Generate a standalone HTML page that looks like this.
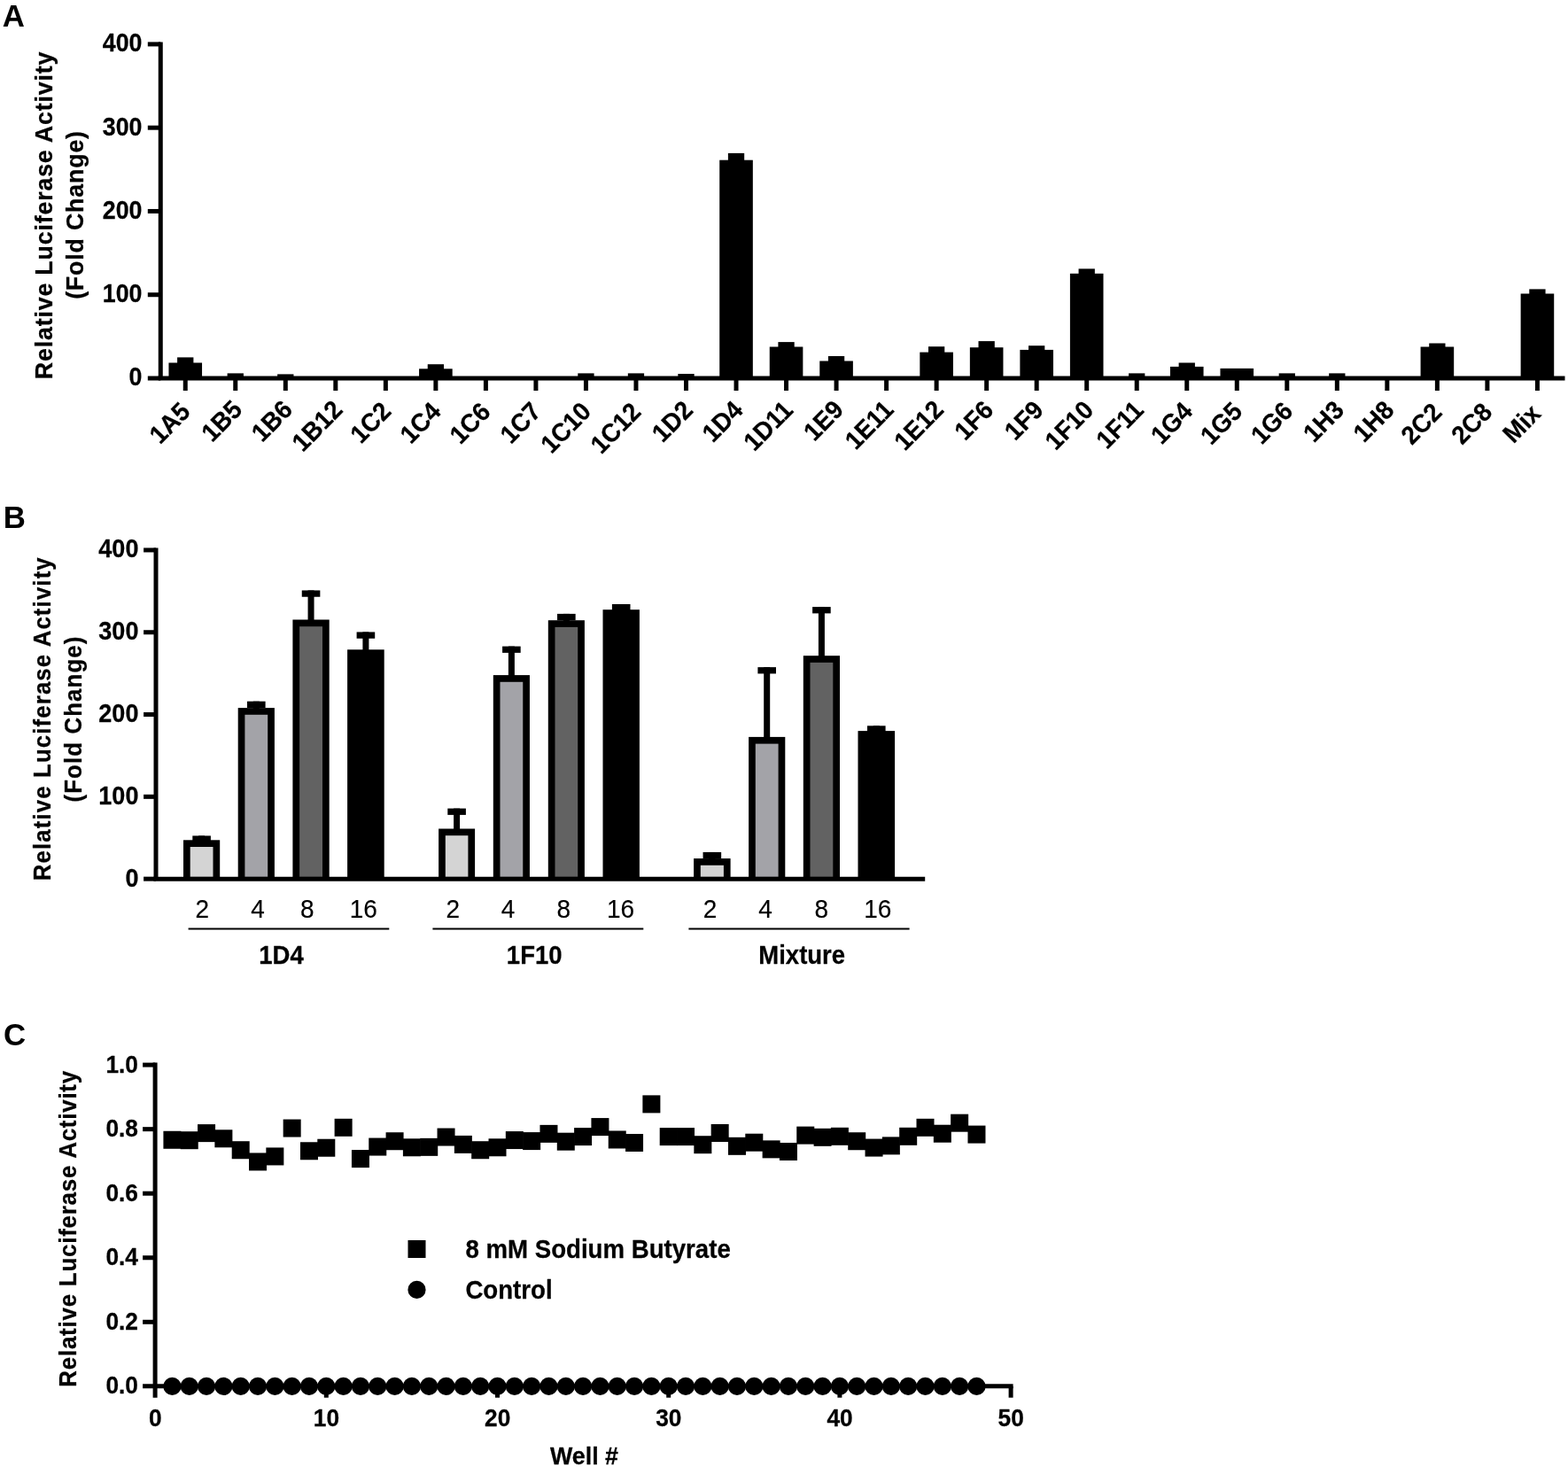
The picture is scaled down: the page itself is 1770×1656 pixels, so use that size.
<!DOCTYPE html>
<html lang="en">
<head>
<meta charset="utf-8">
<title>Relative luciferase activity figure (panels A, B, C)</title>
<style>
html,body{margin:0;padding:0;background:#fff;overflow:hidden}
svg{display:block}
svg text{font-family:"Liberation Sans", sans-serif;font-weight:bold;fill:#000;stroke:#000;stroke-width:0.25px;stroke-linejoin:round}
svg text.pl{stroke:none}
svg text.rg{font-weight:normal;stroke-width:0.15px}
svg line{stroke:#000}
</style>
</head>
<body>
<svg width="1770" height="1656" viewBox="0 0 1770 1656">
<rect x="0" y="0" width="1770" height="1656" style="fill:#fff"/>
<g id="panel-labels">
<text class="pl" transform="translate(2.86 30)" font-size="34.8">A</text>
<text class="pl" transform="translate(3.87 596.1)" font-size="34.8">B</text>
<text class="pl" transform="translate(3.97 1179.8)" font-size="34.8">C</text>
</g>
<g id="panel-a">
<line x1="181.25" y1="47.4" x2="181.25" y2="427" stroke-width="5"/>
<line x1="178.75" y1="427" x2="1766.5" y2="427" stroke-width="5"/>
<line x1="166.8" y1="427" x2="181.25" y2="427" stroke-width="5"/>
<text transform="translate(160.5 435.35) scale(1 1.12)" font-size="26.8" text-anchor="end">0</text>
<line x1="166.8" y1="332.73" x2="181.25" y2="332.73" stroke-width="5"/>
<text transform="translate(160.5 341.08) scale(1 1.12)" font-size="26.8" text-anchor="end">100</text>
<line x1="166.8" y1="238.45" x2="181.25" y2="238.45" stroke-width="5"/>
<text transform="translate(160.5 246.8) scale(1 1.12)" font-size="26.8" text-anchor="end">200</text>
<line x1="166.8" y1="144.18" x2="181.25" y2="144.18" stroke-width="5"/>
<text transform="translate(160.5 152.53) scale(1 1.12)" font-size="26.8" text-anchor="end">300</text>
<line x1="166.8" y1="49.9" x2="181.25" y2="49.9" stroke-width="5"/>
<text transform="translate(160.5 58.25) scale(1 1.12)" font-size="26.8" text-anchor="end">400</text>
<line x1="209.25" y1="427" x2="209.25" y2="441" stroke-width="5"/>
<rect x="190.45" y="409.5" width="37.6" height="17.5" stroke="none"/>
<rect x="200.1" y="403.4" width="18.3" height="23.6" stroke="none"/>
<text transform="translate(216.3 466.3) rotate(-45.5) scale(1 1.047)" font-size="27.7" text-anchor="end">1A5</text>
<line x1="265.77" y1="427" x2="265.77" y2="441" stroke-width="5"/>
<rect x="256.62" y="421.4" width="18.3" height="5.6" stroke="none"/>
<text transform="translate(275.15 464) rotate(-45.5) scale(1 1.047)" font-size="27.7" text-anchor="end">1B5</text>
<line x1="322.3" y1="427" x2="322.3" y2="441" stroke-width="5"/>
<rect x="313.15" y="422.4" width="18.3" height="4.6" stroke="none"/>
<text transform="translate(331.7 464) rotate(-45.5) scale(1 1.047)" font-size="27.7" text-anchor="end">1B6</text>
<line x1="378.82" y1="427" x2="378.82" y2="441" stroke-width="5"/>
<text transform="translate(388.25 464) rotate(-45.5) scale(1 1.047)" font-size="27.7" text-anchor="end">1B12</text>
<line x1="435.35" y1="427" x2="435.35" y2="441" stroke-width="5"/>
<text transform="translate(443.1 465.7) rotate(-45.5) scale(1 1.047)" font-size="27.7" text-anchor="end">1C2</text>
<line x1="491.88" y1="427" x2="491.88" y2="441" stroke-width="5"/>
<rect x="473.07" y="416.3" width="37.6" height="10.7" stroke="none"/>
<rect x="482.73" y="411.2" width="18.3" height="15.8" stroke="none"/>
<text transform="translate(499.25 466.1) rotate(-45.5) scale(1 1.047)" font-size="27.7" text-anchor="end">1C4</text>
<line x1="548.4" y1="427" x2="548.4" y2="441" stroke-width="5"/>
<text transform="translate(555.4 466.5) rotate(-45.5) scale(1 1.047)" font-size="27.7" text-anchor="end">1C6</text>
<line x1="604.92" y1="427" x2="604.92" y2="441" stroke-width="5"/>
<text transform="translate(612.35 466.1) rotate(-45.5) scale(1 1.047)" font-size="27.7" text-anchor="end">1C7</text>
<line x1="661.45" y1="427" x2="661.45" y2="441" stroke-width="5"/>
<rect x="652.3" y="421.4" width="18.3" height="5.6" stroke="none"/>
<text transform="translate(668.9 466.1) rotate(-45.5) scale(1 1.047)" font-size="27.7" text-anchor="end">1C10</text>
<line x1="717.97" y1="427" x2="717.97" y2="441" stroke-width="5"/>
<rect x="708.82" y="421.4" width="18.3" height="5.6" stroke="none"/>
<text transform="translate(725.05 466.5) rotate(-45.5) scale(1 1.047)" font-size="27.7" text-anchor="end">1C12</text>
<line x1="774.5" y1="427" x2="774.5" y2="441" stroke-width="5"/>
<rect x="765.35" y="422" width="18.3" height="5" stroke="none"/>
<text transform="translate(783.7 464.4) rotate(-45.5) scale(1 1.047)" font-size="27.7" text-anchor="end">1D2</text>
<line x1="831.02" y1="427" x2="831.02" y2="441" stroke-width="5"/>
<rect x="812.23" y="180.7" width="37.6" height="246.3" stroke="none"/>
<rect x="821.88" y="172.9" width="18.3" height="254.1" stroke="none"/>
<text transform="translate(840.25 464.4) rotate(-45.5) scale(1 1.047)" font-size="27.7" text-anchor="end">1D4</text>
<line x1="887.55" y1="427" x2="887.55" y2="441" stroke-width="5"/>
<rect x="868.75" y="391.5" width="37.6" height="35.5" stroke="none"/>
<rect x="878.4" y="386.1" width="18.3" height="40.9" stroke="none"/>
<text transform="translate(896.8 464.4) rotate(-45.5) scale(1 1.047)" font-size="27.7" text-anchor="end">1D11</text>
<line x1="944.07" y1="427" x2="944.07" y2="441" stroke-width="5"/>
<rect x="925.27" y="407.5" width="37.6" height="19.5" stroke="none"/>
<rect x="934.92" y="402" width="18.3" height="25" stroke="none"/>
<text transform="translate(953.75 464) rotate(-45.5) scale(1 1.047)" font-size="27.7" text-anchor="end">1E9</text>
<line x1="1000.6" y1="427" x2="1000.6" y2="441" stroke-width="5"/>
<text transform="translate(1010.3 464) rotate(-45.5) scale(1 1.047)" font-size="27.7" text-anchor="end">1E11</text>
<line x1="1057.12" y1="427" x2="1057.12" y2="441" stroke-width="5"/>
<rect x="1038.33" y="397.6" width="37.6" height="29.4" stroke="none"/>
<rect x="1047.97" y="391.2" width="18.3" height="35.8" stroke="none"/>
<text transform="translate(1066.85 464) rotate(-45.5) scale(1 1.047)" font-size="27.7" text-anchor="end">1E12</text>
<line x1="1113.65" y1="427" x2="1113.65" y2="441" stroke-width="5"/>
<rect x="1094.85" y="392.2" width="37.6" height="34.8" stroke="none"/>
<rect x="1104.5" y="385.1" width="18.3" height="41.9" stroke="none"/>
<text transform="translate(1123 464.4) rotate(-45.5) scale(1 1.047)" font-size="27.7" text-anchor="end">1F6</text>
<line x1="1170.17" y1="427" x2="1170.17" y2="441" stroke-width="5"/>
<rect x="1151.38" y="394.9" width="37.6" height="32.1" stroke="none"/>
<rect x="1161.02" y="390.2" width="18.3" height="36.8" stroke="none"/>
<text transform="translate(1179.55 464.4) rotate(-45.5) scale(1 1.047)" font-size="27.7" text-anchor="end">1F9</text>
<line x1="1226.7" y1="427" x2="1226.7" y2="441" stroke-width="5"/>
<rect x="1207.9" y="308.8" width="37.6" height="118.2" stroke="none"/>
<rect x="1217.55" y="303.4" width="18.3" height="123.6" stroke="none"/>
<text transform="translate(1236.1 464.4) rotate(-45.5) scale(1 1.047)" font-size="27.7" text-anchor="end">1F10</text>
<line x1="1283.22" y1="427" x2="1283.22" y2="441" stroke-width="5"/>
<rect x="1274.07" y="421.4" width="18.3" height="5.6" stroke="none"/>
<text transform="translate(1292.65 464.4) rotate(-45.5) scale(1 1.047)" font-size="27.7" text-anchor="end">1F11</text>
<line x1="1339.75" y1="427" x2="1339.75" y2="441" stroke-width="5"/>
<rect x="1320.95" y="413.9" width="37.6" height="13.1" stroke="none"/>
<rect x="1330.6" y="409.5" width="18.3" height="17.5" stroke="none"/>
<text transform="translate(1347.9 465.7) rotate(-45.5) scale(1 1.047)" font-size="27.7" text-anchor="end">1G4</text>
<line x1="1396.27" y1="427" x2="1396.27" y2="441" stroke-width="5"/>
<rect x="1377.47" y="415.9" width="37.6" height="11.1" stroke="none"/>
<text transform="translate(1404.05 466.1) rotate(-45.5) scale(1 1.047)" font-size="27.7" text-anchor="end">1G5</text>
<line x1="1452.8" y1="427" x2="1452.8" y2="441" stroke-width="5"/>
<rect x="1443.65" y="421.4" width="18.3" height="5.6" stroke="none"/>
<text transform="translate(1461 465.7) rotate(-45.5) scale(1 1.047)" font-size="27.7" text-anchor="end">1G6</text>
<line x1="1509.33" y1="427" x2="1509.33" y2="441" stroke-width="5"/>
<rect x="1500.17" y="421.4" width="18.3" height="5.6" stroke="none"/>
<text transform="translate(1518.85 464.4) rotate(-45.5) scale(1 1.047)" font-size="27.7" text-anchor="end">1H3</text>
<line x1="1565.85" y1="427" x2="1565.85" y2="441" stroke-width="5"/>
<text transform="translate(1575.4 464.4) rotate(-45.5) scale(1 1.047)" font-size="27.7" text-anchor="end">1H8</text>
<line x1="1622.38" y1="427" x2="1622.38" y2="441" stroke-width="5"/>
<rect x="1603.58" y="391.5" width="37.6" height="35.5" stroke="none"/>
<rect x="1613.22" y="387.5" width="18.3" height="39.5" stroke="none"/>
<text transform="translate(1629.35 467) rotate(-45.5) scale(1 1.047)" font-size="27.7" text-anchor="end">2C2</text>
<line x1="1678.9" y1="427" x2="1678.9" y2="441" stroke-width="5"/>
<text transform="translate(1686.1 466.8) rotate(-45.5) scale(1 1.047)" font-size="27.7" text-anchor="end">2C8</text>
<line x1="1735.42" y1="427" x2="1735.42" y2="441" stroke-width="5"/>
<rect x="1716.62" y="331.5" width="37.6" height="95.5" stroke="none"/>
<rect x="1726.27" y="326.4" width="18.3" height="100.6" stroke="none"/>
<text transform="translate(1740.9 468.55) rotate(-45.5) scale(1 1.047)" font-size="27.7" text-anchor="end">Mix</text>
<text transform="translate(59 243) rotate(-90) scale(1 1.05)" font-size="26.8" text-anchor="middle" letter-spacing="0.82">Relative Luciferase Activity</text>
<text transform="translate(94 242.5) rotate(-90) scale(1 1.05)" font-size="26.8" text-anchor="middle" letter-spacing="0.82">(Fold Change)</text>
</g>
<g id="panel-b">
<line x1="176" y1="618.45" x2="176" y2="992.15" stroke-width="5"/>
<line x1="173.5" y1="992.15" x2="1044.2" y2="992.15" stroke-width="5"/>
<line x1="162.1" y1="992.15" x2="176" y2="992.15" stroke-width="5"/>
<text transform="translate(156.4 1000.5) scale(1 1.1)" font-size="27" text-anchor="end">0</text>
<line x1="162.1" y1="899.35" x2="176" y2="899.35" stroke-width="5"/>
<text transform="translate(156.4 907.7) scale(1 1.1)" font-size="27" text-anchor="end">100</text>
<line x1="162.1" y1="806.55" x2="176" y2="806.55" stroke-width="5"/>
<text transform="translate(156.4 814.9) scale(1 1.1)" font-size="27" text-anchor="end">200</text>
<line x1="162.1" y1="713.75" x2="176" y2="713.75" stroke-width="5"/>
<text transform="translate(156.4 722.1) scale(1 1.1)" font-size="27" text-anchor="end">300</text>
<line x1="162.1" y1="620.95" x2="176" y2="620.95" stroke-width="5"/>
<text transform="translate(156.4 629.3) scale(1 1.1)" font-size="27" text-anchor="end">400</text>
<rect x="224.1" y="943.45" width="7" height="6.85" stroke="none"/>
<rect x="217.3" y="943.45" width="20.6" height="7.3" stroke="none"/>
<rect x="207" y="948.3" width="41.2" height="43.85" stroke="none"/>
<rect x="214.7" y="956" width="25.8" height="33.65" fill="#d4d4d4" stroke="none"/>
<rect x="285.8" y="791.7" width="7" height="9.4" stroke="none"/>
<rect x="279" y="791.7" width="20.6" height="7.3" stroke="none"/>
<rect x="268.7" y="799.1" width="41.2" height="193.05" stroke="none"/>
<rect x="276.4" y="806.8" width="25.8" height="182.85" fill="#a3a3a8" stroke="none"/>
<rect x="347.55" y="666.45" width="7" height="35.05" stroke="none"/>
<rect x="340.75" y="666.45" width="20.6" height="7.3" stroke="none"/>
<rect x="330.4" y="699.5" width="41.3" height="292.65" stroke="none"/>
<rect x="338.1" y="707.2" width="25.9" height="282.45" fill="#626262" stroke="none"/>
<rect x="409.4" y="713.45" width="7" height="21.85" stroke="none"/>
<rect x="402.6" y="713.45" width="20.6" height="7.3" stroke="none"/>
<rect x="392.1" y="733.3" width="41.6" height="258.85" stroke="none"/>
<text class="rg" transform="translate(228.4 1036.05) scale(1 1.08)" font-size="28" text-anchor="middle">2</text>
<text class="rg" transform="translate(291.1 1036.05) scale(1 1.08)" font-size="28" text-anchor="middle">4</text>
<text class="rg" transform="translate(346.7 1036.05) scale(1 1.08)" font-size="28" text-anchor="middle">8</text>
<text class="rg" transform="translate(410.2 1036.05) scale(1 1.08)" font-size="28" text-anchor="middle">16</text>
<line x1="212.6" y1="1048.5" x2="439.3" y2="1048.5" stroke-width="2"/>
<text transform="translate(317.5 1087.9) scale(1 1.09)" font-size="27.5" text-anchor="middle">1D4</text>
<rect x="512.1" y="912.6" width="7" height="24.9" stroke="none"/>
<rect x="505.3" y="912.6" width="20.6" height="7.3" stroke="none"/>
<rect x="495.1" y="935.5" width="41" height="56.65" stroke="none"/>
<rect x="502.8" y="943.2" width="25.6" height="46.45" fill="#d4d4d4" stroke="none"/>
<rect x="573.88" y="729.6" width="7" height="34.5" stroke="none"/>
<rect x="567.08" y="729.6" width="20.6" height="7.3" stroke="none"/>
<rect x="556.8" y="762.1" width="41.15" height="230.05" stroke="none"/>
<rect x="564.5" y="769.8" width="25.75" height="219.85" fill="#a3a3a8" stroke="none"/>
<rect x="635.85" y="692.9" width="7" height="9.3" stroke="none"/>
<rect x="629.05" y="692.9" width="20.6" height="7.3" stroke="none"/>
<rect x="618.8" y="700.2" width="41.1" height="291.95" stroke="none"/>
<rect x="626.5" y="707.9" width="25.7" height="281.75" fill="#626262" stroke="none"/>
<rect x="697.7" y="682" width="7" height="8.2" stroke="none"/>
<rect x="690.9" y="682" width="20.6" height="7.3" stroke="none"/>
<rect x="680.5" y="688.2" width="41.4" height="303.95" stroke="none"/>
<text class="rg" transform="translate(511.2 1036.05) scale(1 1.08)" font-size="28" text-anchor="middle">2</text>
<text class="rg" transform="translate(573.6 1036.05) scale(1 1.08)" font-size="28" text-anchor="middle">4</text>
<text class="rg" transform="translate(636.4 1036.05) scale(1 1.08)" font-size="28" text-anchor="middle">8</text>
<text class="rg" transform="translate(700.5 1036.05) scale(1 1.08)" font-size="28" text-anchor="middle">16</text>
<line x1="488.4" y1="1048.5" x2="726.3" y2="1048.5" stroke-width="2"/>
<text transform="translate(603.2 1087.9) scale(1 1.09)" font-size="27.5" text-anchor="middle">1F10</text>
<rect x="800.35" y="961.95" width="7" height="9.12" stroke="none"/>
<rect x="793.55" y="961.95" width="20.6" height="7.3" stroke="none"/>
<rect x="783.1" y="969.07" width="41.5" height="23.08" stroke="none"/>
<rect x="790.8" y="976.77" width="26.1" height="12.88" fill="#d4d4d4" stroke="none"/>
<rect x="862.2" y="753.15" width="7" height="80.75" stroke="none"/>
<rect x="855.4" y="753.15" width="20.6" height="7.3" stroke="none"/>
<rect x="845.1" y="831.9" width="41.2" height="160.25" stroke="none"/>
<rect x="852.8" y="839.6" width="25.8" height="150.05" fill="#a3a3a8" stroke="none"/>
<rect x="923.9" y="685.1" width="7" height="57.1" stroke="none"/>
<rect x="917.1" y="685.1" width="20.6" height="7.3" stroke="none"/>
<rect x="906.8" y="740.2" width="41.2" height="251.95" stroke="none"/>
<rect x="914.5" y="747.9" width="25.8" height="241.75" fill="#626262" stroke="none"/>
<rect x="985.8" y="819.3" width="7" height="7.8" stroke="none"/>
<rect x="979" y="819.3" width="20.6" height="7.3" stroke="none"/>
<rect x="968.5" y="825.1" width="41.6" height="167.05" stroke="none"/>
<text class="rg" transform="translate(801.6 1036.05) scale(1 1.08)" font-size="28" text-anchor="middle">2</text>
<text class="rg" transform="translate(864 1036.05) scale(1 1.08)" font-size="28" text-anchor="middle">4</text>
<text class="rg" transform="translate(927.2 1036.05) scale(1 1.08)" font-size="28" text-anchor="middle">8</text>
<text class="rg" transform="translate(990.85 1036.05) scale(1 1.08)" font-size="28" text-anchor="middle">16</text>
<line x1="777.4" y1="1048.5" x2="1026.6" y2="1048.5" stroke-width="2"/>
<text transform="translate(905.2 1087.9) scale(1 1.09)" font-size="27.5" text-anchor="middle">Mixture</text>
<text transform="translate(57 811.2) rotate(-90) scale(1 1.1)" font-size="25.76" text-anchor="middle" letter-spacing="1.15">Relative Luciferase Activity</text>
<text transform="translate(92.1 811.5) rotate(-90) scale(1 1.1)" font-size="25.76" text-anchor="middle" letter-spacing="1.15">(Fold Change)</text>
</g>
<g id="panel-c">
<line x1="175.1" y1="1199.6" x2="175.1" y2="1577.7" stroke-width="5"/>
<line x1="161.1" y1="1564.85" x2="1143.6" y2="1564.85" stroke-width="5"/>
<text transform="translate(156 1573.25) scale(1 1.06)" font-size="26.3" text-anchor="end">0.0</text>
<line x1="161.1" y1="1492.3" x2="175.1" y2="1492.3" stroke-width="5"/>
<text transform="translate(156 1500.7) scale(1 1.06)" font-size="26.3" text-anchor="end">0.2</text>
<line x1="161.1" y1="1419.75" x2="175.1" y2="1419.75" stroke-width="5"/>
<text transform="translate(156 1428.15) scale(1 1.06)" font-size="26.3" text-anchor="end">0.4</text>
<line x1="161.1" y1="1347.2" x2="175.1" y2="1347.2" stroke-width="5"/>
<text transform="translate(156 1355.6) scale(1 1.06)" font-size="26.3" text-anchor="end">0.6</text>
<line x1="161.1" y1="1274.65" x2="175.1" y2="1274.65" stroke-width="5"/>
<text transform="translate(156 1283.05) scale(1 1.06)" font-size="26.3" text-anchor="end">0.8</text>
<line x1="161.1" y1="1202.1" x2="175.1" y2="1202.1" stroke-width="5"/>
<text transform="translate(156 1210.5) scale(1 1.06)" font-size="26.3" text-anchor="end">1.0</text>
<text transform="translate(175.25 1610.15) scale(1 1.085)" font-size="26.3" text-anchor="middle">0</text>
<line x1="368.3" y1="1564.85" x2="368.3" y2="1577.7" stroke-width="5"/>
<text transform="translate(368.45 1610.15) scale(1 1.085)" font-size="26.3" text-anchor="middle">10</text>
<line x1="561.5" y1="1564.85" x2="561.5" y2="1577.7" stroke-width="5"/>
<text transform="translate(561.65 1610.15) scale(1 1.085)" font-size="26.3" text-anchor="middle">20</text>
<line x1="754.7" y1="1564.85" x2="754.7" y2="1577.7" stroke-width="5"/>
<text transform="translate(754.85 1610.15) scale(1 1.085)" font-size="26.3" text-anchor="middle">30</text>
<line x1="947.9" y1="1564.85" x2="947.9" y2="1577.7" stroke-width="5"/>
<text transform="translate(948.05 1610.15) scale(1 1.085)" font-size="26.3" text-anchor="middle">40</text>
<line x1="1141.1" y1="1564.85" x2="1141.1" y2="1577.7" stroke-width="5"/>
<text transform="translate(1141.25 1610.15) scale(1 1.085)" font-size="26.3" text-anchor="middle">50</text>
<rect x="184.42" y="1276.77" width="20" height="20" stroke="none"/>
<rect x="203.74" y="1277.21" width="20" height="20" stroke="none"/>
<rect x="223.06" y="1269.13" width="20" height="20" stroke="none"/>
<rect x="242.38" y="1275.3" width="20" height="20" stroke="none"/>
<rect x="261.7" y="1288.23" width="20" height="20" stroke="none"/>
<rect x="281.02" y="1301.45" width="20" height="20" stroke="none"/>
<rect x="300.34" y="1295.43" width="20" height="20" stroke="none"/>
<rect x="319.66" y="1263.55" width="20" height="20" stroke="none"/>
<rect x="338.98" y="1289.26" width="20" height="20" stroke="none"/>
<rect x="358.3" y="1285.73" width="20" height="20" stroke="none"/>
<rect x="377.62" y="1262.82" width="20" height="20" stroke="none"/>
<rect x="396.94" y="1298.07" width="20" height="20" stroke="none"/>
<rect x="416.26" y="1284.56" width="20" height="20" stroke="none"/>
<rect x="435.58" y="1278.24" width="20" height="20" stroke="none"/>
<rect x="454.9" y="1285.29" width="20" height="20" stroke="none"/>
<rect x="474.22" y="1284.85" width="20" height="20" stroke="none"/>
<rect x="493.54" y="1273.54" width="20" height="20" stroke="none"/>
<rect x="512.86" y="1281.91" width="20" height="20" stroke="none"/>
<rect x="532.18" y="1288.23" width="20" height="20" stroke="none"/>
<rect x="551.5" y="1285.29" width="20" height="20" stroke="none"/>
<rect x="570.82" y="1277.07" width="20" height="20" stroke="none"/>
<rect x="590.14" y="1278.09" width="20" height="20" stroke="none"/>
<rect x="609.46" y="1269.87" width="20" height="20" stroke="none"/>
<rect x="628.78" y="1278.68" width="20" height="20" stroke="none"/>
<rect x="648.1" y="1273.1" width="20" height="20" stroke="none"/>
<rect x="667.42" y="1262.08" width="20" height="20" stroke="none"/>
<rect x="686.74" y="1276.48" width="20" height="20" stroke="none"/>
<rect x="706.06" y="1280" width="20" height="20" stroke="none"/>
<rect x="725.38" y="1236.38" width="20" height="20" stroke="none"/>
<rect x="744.7" y="1273.1" width="20" height="20" stroke="none"/>
<rect x="764.02" y="1273.1" width="20" height="20" stroke="none"/>
<rect x="783.34" y="1282.21" width="20" height="20" stroke="none"/>
<rect x="802.66" y="1268.99" width="20" height="20" stroke="none"/>
<rect x="821.98" y="1283.82" width="20" height="20" stroke="none"/>
<rect x="841.3" y="1279.71" width="20" height="20" stroke="none"/>
<rect x="860.62" y="1287.35" width="20" height="20" stroke="none"/>
<rect x="879.94" y="1289.99" width="20" height="20" stroke="none"/>
<rect x="899.26" y="1271.63" width="20" height="20" stroke="none"/>
<rect x="918.58" y="1273.83" width="20" height="20" stroke="none"/>
<rect x="937.9" y="1272.81" width="20" height="20" stroke="none"/>
<rect x="957.22" y="1278.24" width="20" height="20" stroke="none"/>
<rect x="976.54" y="1285.58" width="20" height="20" stroke="none"/>
<rect x="995.86" y="1283.38" width="20" height="20" stroke="none"/>
<rect x="1015.18" y="1272.81" width="20" height="20" stroke="none"/>
<rect x="1034.5" y="1262.82" width="20" height="20" stroke="none"/>
<rect x="1053.82" y="1269.72" width="20" height="20" stroke="none"/>
<rect x="1073.14" y="1257.68" width="20" height="20" stroke="none"/>
<rect x="1092.46" y="1270.6" width="20" height="20" stroke="none"/>
<circle cx="194.42" cy="1564.95" r="10.1" stroke="none"/>
<circle cx="213.74" cy="1564.95" r="10.1" stroke="none"/>
<circle cx="233.06" cy="1564.95" r="10.1" stroke="none"/>
<circle cx="252.38" cy="1564.95" r="10.1" stroke="none"/>
<circle cx="271.7" cy="1564.95" r="10.1" stroke="none"/>
<circle cx="291.02" cy="1564.95" r="10.1" stroke="none"/>
<circle cx="310.34" cy="1564.95" r="10.1" stroke="none"/>
<circle cx="329.66" cy="1564.95" r="10.1" stroke="none"/>
<circle cx="348.98" cy="1564.95" r="10.1" stroke="none"/>
<circle cx="368.3" cy="1564.95" r="10.1" stroke="none"/>
<circle cx="387.62" cy="1564.95" r="10.1" stroke="none"/>
<circle cx="406.94" cy="1564.95" r="10.1" stroke="none"/>
<circle cx="426.26" cy="1564.95" r="10.1" stroke="none"/>
<circle cx="445.58" cy="1564.95" r="10.1" stroke="none"/>
<circle cx="464.9" cy="1564.95" r="10.1" stroke="none"/>
<circle cx="484.22" cy="1564.95" r="10.1" stroke="none"/>
<circle cx="503.54" cy="1564.95" r="10.1" stroke="none"/>
<circle cx="522.86" cy="1564.95" r="10.1" stroke="none"/>
<circle cx="542.18" cy="1564.95" r="10.1" stroke="none"/>
<circle cx="561.5" cy="1564.95" r="10.1" stroke="none"/>
<circle cx="580.82" cy="1564.95" r="10.1" stroke="none"/>
<circle cx="600.14" cy="1564.95" r="10.1" stroke="none"/>
<circle cx="619.46" cy="1564.95" r="10.1" stroke="none"/>
<circle cx="638.78" cy="1564.95" r="10.1" stroke="none"/>
<circle cx="658.1" cy="1564.95" r="10.1" stroke="none"/>
<circle cx="677.42" cy="1564.95" r="10.1" stroke="none"/>
<circle cx="696.74" cy="1564.95" r="10.1" stroke="none"/>
<circle cx="716.06" cy="1564.95" r="10.1" stroke="none"/>
<circle cx="735.38" cy="1564.95" r="10.1" stroke="none"/>
<circle cx="754.7" cy="1564.95" r="10.1" stroke="none"/>
<circle cx="774.02" cy="1564.95" r="10.1" stroke="none"/>
<circle cx="793.34" cy="1564.95" r="10.1" stroke="none"/>
<circle cx="812.66" cy="1564.95" r="10.1" stroke="none"/>
<circle cx="831.98" cy="1564.95" r="10.1" stroke="none"/>
<circle cx="851.3" cy="1564.95" r="10.1" stroke="none"/>
<circle cx="870.62" cy="1564.95" r="10.1" stroke="none"/>
<circle cx="889.94" cy="1564.95" r="10.1" stroke="none"/>
<circle cx="909.26" cy="1564.95" r="10.1" stroke="none"/>
<circle cx="928.58" cy="1564.95" r="10.1" stroke="none"/>
<circle cx="947.9" cy="1564.95" r="10.1" stroke="none"/>
<circle cx="967.22" cy="1564.95" r="10.1" stroke="none"/>
<circle cx="986.54" cy="1564.95" r="10.1" stroke="none"/>
<circle cx="1005.86" cy="1564.95" r="10.1" stroke="none"/>
<circle cx="1025.18" cy="1564.95" r="10.1" stroke="none"/>
<circle cx="1044.5" cy="1564.95" r="10.1" stroke="none"/>
<circle cx="1063.82" cy="1564.95" r="10.1" stroke="none"/>
<circle cx="1083.14" cy="1564.95" r="10.1" stroke="none"/>
<circle cx="1102.46" cy="1564.95" r="10.1" stroke="none"/>
<rect x="460.5" y="1400" width="20" height="20" stroke="none"/>
<circle cx="470.5" cy="1455.9" r="10.1" stroke="none"/>
<text transform="translate(525.4 1420.15) scale(1 1.04)" font-size="27.65">8 mM Sodium Butyrate</text>
<text transform="translate(525.4 1466.15) scale(1 1.04)" font-size="27.65">Control</text>
<text transform="translate(659.5 1652.85) scale(1 1.05)" font-size="26.8" text-anchor="middle">Well #</text>
<text transform="translate(86 1386.9) rotate(-90) scale(1 1.05)" font-size="26" text-anchor="middle" letter-spacing="0.74">Relative Luciferase Activity</text>
</g>
</svg>
</body>
</html>
